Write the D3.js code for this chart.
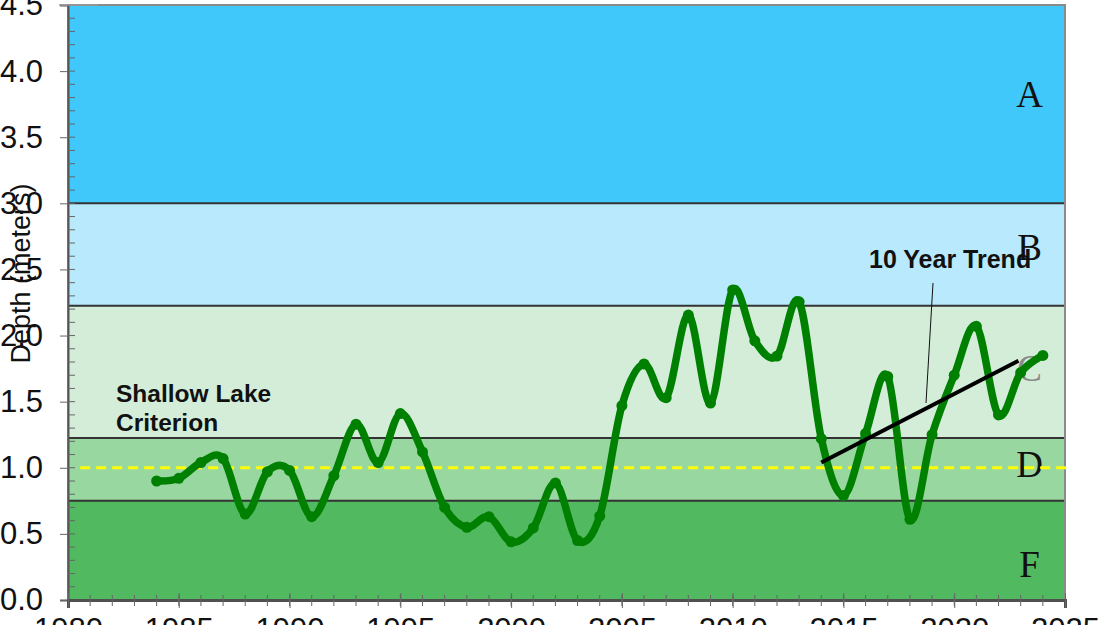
<!DOCTYPE html>
<html>
<head>
<meta charset="utf-8">
<script src="https://cdn.jsdelivr.net/npm/d3@7"></script>
<style>
  html, body { margin: 0; padding: 0; background: #ffffff; overflow: hidden; }
  svg { display: block; }
</style>
</head>
<body>
<svg id="chart" width="1110" height="625"></svg>
<script>
// ---------------- data ----------------
const years = [1984, 1985, 1986, 1987, 1988, 1989, 1990, 1991, 1992, 1993,
               1994, 1995, 1996, 1997, 1998, 1999, 2000, 2001, 2002, 2003,
               2004, 2005, 2006, 2007, 2008, 2009, 2010, 2011, 2012, 2013,
               2014, 2015, 2016, 2017, 2018, 2019, 2020, 2021, 2022, 2023, 2024];
const depth = [0.90, 0.92, 1.04, 1.07, 0.65, 0.97, 0.98, 0.63, 0.94, 1.33,
               1.04, 1.41, 1.12, 0.70, 0.55, 0.63, 0.44, 0.545, 0.885, 0.45,
               0.635, 1.47, 1.785, 1.53, 2.155, 1.49, 2.345, 1.96, 1.845, 2.255,
               1.22, 0.79, 1.26, 1.69, 0.61, 1.25, 1.70, 2.07, 1.40, 1.72, 1.85];

const gradeNames = ["A", "B", "C", "D", "F"];
const gradeTop = [4.5, 3.0, 2.225, 1.225, 0.75];
const gradeBottom = [3.0, 2.225, 1.225, 0.75, 0.0];
const gradeLabelValue = [3.73, 2.57, 1.66, 0.93, 0.174];

const criterionValue = 1.0;
const trendYears = [2014, 2022.9];
const trendValues = [1.04, 1.81];

const xMajorTicks = [1980, 1985, 1990, 1995, 2000, 2005, 2010, 2015, 2020, 2025];
const yMajorTicks = [0, 0.5, 1.0, 1.5, 2.0, 2.5, 3.0, 3.5, 4.0, 4.5];
const yTitle = "Depth (meters)";
const criterionText = ["Shallow Lake", "Criterion"];
const trendText = "10 Year Trend";

// ---------------- styles ----------------
const gradeColors = ["#3fc8f9", "#b9e9fc", "#d4edd9", "#98d7a0", "#51b960"];

// ---------------- layout ----------------
const L = 68, R = 1065, T = 5, B = 600;
const svg = d3.select("#chart");
const x = d3.scaleLinear().domain([1980, 2025]).range([L, R]);
const y = d3.scaleLinear().domain([0, 4.5]).range([B, T]);

// bands
const bands = gradeNames.map((g, i) => ({ g, top: gradeTop[i], bot: gradeBottom[i], c: gradeColors[i], lv: gradeLabelValue[i] }));
svg.append("g").selectAll("rect").data(bands).join("rect")
  .attr("x", x(1980)).attr("width", x(2025) - x(1980))
  .attr("y", d => y(d.top)).attr("height", d => y(d.bot) - y(d.top))
  .attr("fill", d => d.c);

// band boundary lines
svg.append("g").selectAll("line").data(gradeTop.slice(1)).join("line")
  .attr("x1", x(1980)).attr("x2", x(2025))
  .attr("y1", d => y(d)).attr("y2", d => y(d))
  .attr("stroke", "#333").attr("stroke-width", 2);

// grade letters
svg.append("g").selectAll("text").data(bands).join("text")
  .attr("x", x(2023.4)).attr("y", d => y(d.lv))
  .attr("text-anchor", "middle")
  .attr("font-family", "'Liberation Serif', 'Times New Roman', serif")
  .attr("font-size", 37)
  .attr("fill", d => d.g === "C" ? "#8a8a8a" : "#111")
  .text(d => d.g);

// frame
svg.append("rect").attr("x", L).attr("y", T).attr("width", R - L).attr("height", B - T)
  .attr("fill", "none").attr("stroke", "#8a8a8a").attr("stroke-width", 2);

// criterion dashed line
svg.append("line")
  .attr("x1", x(1980.55)).attr("x2", x(2025.3))
  .attr("y1", y(criterionValue)).attr("y2", y(criterionValue))
  .attr("stroke", "#ffff00").attr("stroke-width", 3)
  .attr("stroke-dasharray", "10,6");

// axes
const yAxis = d3.axisLeft(y).tickValues(yMajorTicks).tickSize(8).tickPadding(17)
  .tickFormat(d3.format(".1f"));
const gy = svg.append("g").attr("transform", `translate(${L},0)`).call(yAxis);
gy.select(".domain").attr("stroke", "#555").attr("stroke-width", 2);
gy.selectAll(".tick line").attr("stroke", "#666");
gy.selectAll("text").attr("font-family", "'Liberation Sans', Arial, sans-serif")
  .attr("font-size", 31).attr("fill", "#111");

// y minor ticks (inside)
const yMinor = d3.range(1, 45).map(i => i / 10);
svg.append("g").selectAll("line").data(yMinor).join("line")
  .attr("x1", L).attr("x2", L + 7)
  .attr("y1", d => y(d)).attr("y2", d => y(d))
  .attr("stroke", "#666").attr("stroke-width", 1);

const xAxis = d3.axisBottom(x).tickValues(xMajorTicks).tickSize(8).tickPadding(10)
  .tickFormat(d3.format("d"));
const gx = svg.append("g").attr("transform", `translate(0,${B})`).call(xAxis);
gx.select(".domain").attr("stroke", "#505050").attr("stroke-width", 3);
gx.selectAll(".tick line").attr("stroke", "#666").attr("y1", -7);
gx.selectAll("text").attr("font-family", "'Liberation Sans', Arial, sans-serif")
  .attr("font-size", 31).attr("fill", "#111");

// x minor ticks
const xMinor = d3.range(1981, 2025);
svg.append("g").selectAll("line").data(xMinor).join("line")
  .attr("x1", d => x(d)).attr("x2", d => x(d))
  .attr("y1", B - 5).attr("y2", B + 6)
  .attr("stroke", "#666").attr("stroke-width", 1);

// left axis overhang at top
svg.append("line").attr("x1", L - 9).attr("x2", L + 30).attr("y1", T).attr("y2", T)
  .attr("stroke", "#999").attr("stroke-width", 1.5);

// y title
svg.append("text")
  .attr("transform", `translate(30,${(y(4.5) + y(0)) / 2 - 29}) rotate(-90)`)
  .attr("text-anchor", "middle")
  .attr("font-family", "'Liberation Sans', Arial, sans-serif")
  .attr("font-size", 27).attr("fill", "#111")
  .text(yTitle);

// data line
const pts = years.map((yr, i) => [yr, depth[i]]);
const line = d3.line().x(d => x(d[0])).y(d => y(d[1])).curve(d3.curveCardinal.tension(0));
svg.append("path").datum(pts).attr("d", line)
  .attr("fill", "none").attr("stroke", "#008000").attr("stroke-width", 7.5)
  .attr("stroke-linejoin", "round").attr("stroke-linecap", "round");
svg.append("g").selectAll("circle").data(pts).join("circle")
  .attr("cx", d => x(d[0])).attr("cy", d => y(d[1])).attr("r", 5.5)
  .attr("fill", "#008000");

// trend line
svg.append("line")
  .attr("x1", x(trendYears[0])).attr("y1", y(trendValues[0]))
  .attr("x2", x(trendYears[1])).attr("y2", y(trendValues[1]))
  .attr("stroke", "#000").attr("stroke-width", 4);

// annotations
svg.append("text").attr("x", 869).attr("y", 268)
  .attr("font-family", "'Liberation Sans', Arial, sans-serif")
  .attr("font-weight", "bold").attr("font-size", 25).attr("fill", "#111")
  .text(trendText);
svg.append("line").attr("x1", 933).attr("y1", 283).attr("x2", 926).attr("y2", 403)
  .attr("stroke", "#111").attr("stroke-width", 1);

const ct = svg.append("text")
  .attr("font-family", "'Liberation Sans', Arial, sans-serif")
  .attr("font-weight", "bold").attr("font-size", 24.5).attr("fill", "#111");
ct.selectAll("tspan").data(criterionText).join("tspan")
  .attr("x", 116).attr("y", (d, i) => 402 + i * 28.5).text(d => d);
</script>
</body>
</html>
